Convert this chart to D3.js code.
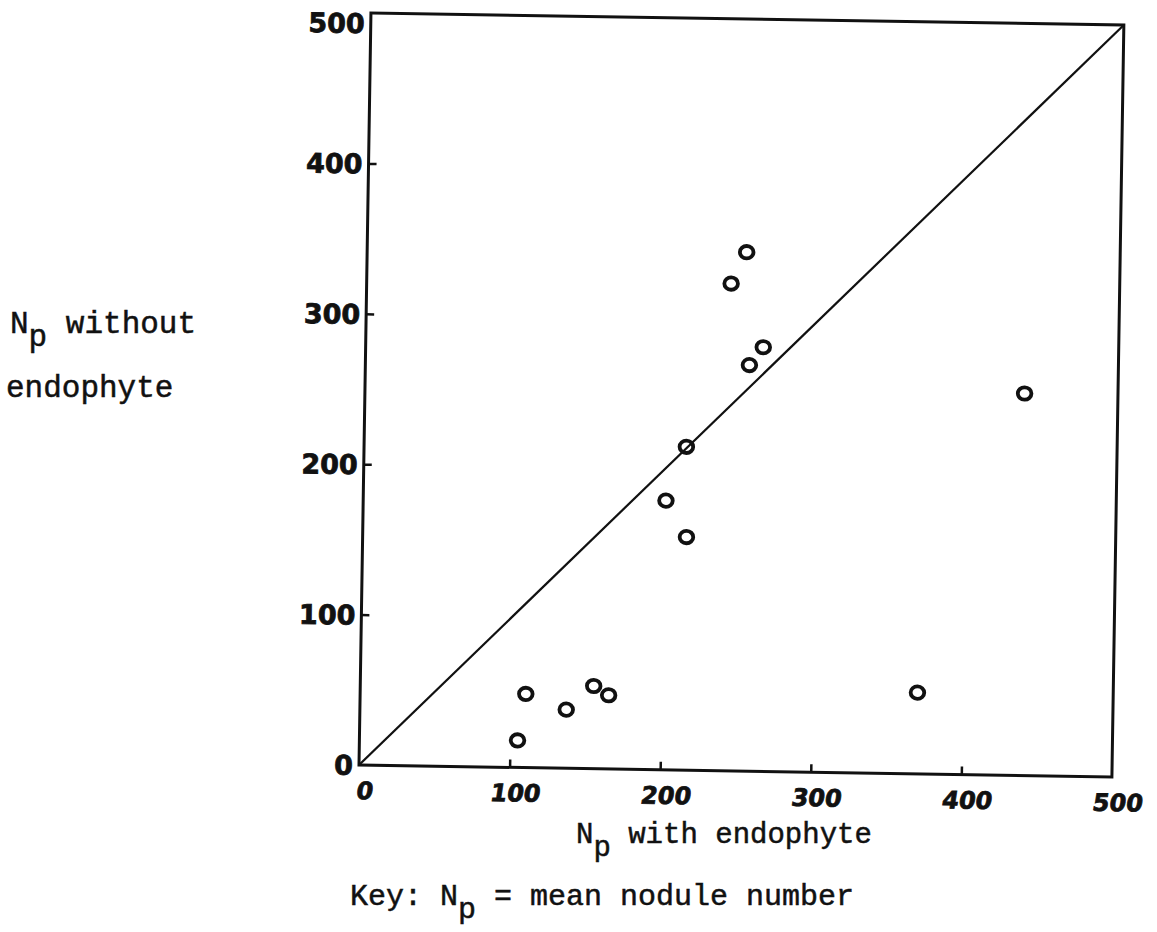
<!DOCTYPE html>
<html>
<head>
<meta charset="utf-8">
<script src="https://cdn.jsdelivr.net/npm/d3@7"></script>
<style>
  html, body { margin: 0; padding: 0; background: #fff; }
  svg { display: block; }
  .typed { font-family: "Liberation Mono", "DejaVu Sans Mono", monospace; fill: #111; stroke: #111; stroke-width: 0.5; }
  .hand { font-family: "DejaVu Sans", sans-serif; font-weight: bold; fill: #111; stroke: #111; stroke-width: 0.8; }
</style>
</head>
<body>
<script>
// Mean nodule number per plant, with and without the endophyte
const withEndophyte    = [105, 110, 137, 155, 165, 201, 214, 215, 242, 252, 255, 264, 370, 438];
const withoutEndophyte = [ 18,  49,  39,  55,  49, 179, 215, 155, 324, 345, 270, 282,  54, 254];
const tickValues = [100, 200, 300, 400];
const tickLabels = [0, 100, 200, 300, 400, 500];

const W = 1157, H = 932;
const origin = { x: 359, y: 765 };
const size = { w: 753, h: 752 };
const tilt = 0.91; // the hand-drawn frame sits slightly clockwise

const svg = d3.select("body").append("svg").attr("width", W).attr("height", H);

const x = d3.scaleLinear().domain([0, 500]).range([0, size.w]);
const y = d3.scaleLinear().domain([0, 500]).range([0, -size.h]);

const g = svg.append("g")
  .attr("transform", `translate(${origin.x},${origin.y}) rotate(${tilt})`);

// frame
g.append("rect")
  .attr("x", x(0)).attr("y", y(500))
  .attr("width", x(500) - x(0)).attr("height", y(0) - y(500))
  .attr("fill", "none").attr("stroke", "#111").attr("stroke-width", 3);

// inward ticks
const xAxis = g.append("g")
  .call(d3.axisBottom(x).tickValues(tickValues).tickSize(-8).tickFormat(""));
const yAxis = g.append("g")
  .call(d3.axisLeft(y).tickValues(tickValues).tickSize(-8).tickFormat(""));
[xAxis, yAxis].forEach(a => {
  a.select(".domain").remove();
  a.selectAll(".tick line").attr("stroke", "#111").attr("stroke-width", 2.5);
});

// 1:1 line
g.append("line")
  .attr("x1", x(0)).attr("y1", y(0))
  .attr("x2", x(500)).attr("y2", y(500))
  .attr("stroke", "#111").attr("stroke-width", 2.2);

// tick labels
g.selectAll("text.xl").data(tickLabels).enter().append("text")
  .attr("class", "hand xl")
  .attr("font-size", 24)
  .attr("x", d => x(d) + 10).attr("y", 34)
  .attr("text-anchor", "middle")
  .attr("transform", "skewX(-8)")
  .text(d => d);

// keep the top label just below the frame corner so it stays on the page
g.selectAll("text.yl").data(tickLabels).enter().append("text")
  .attr("class", "hand yl")
  .attr("font-size", 27)
  .attr("x", -6).attr("y", d => Math.max(y(d), y(500) + 10) + 10)
  .attr("text-anchor", "end")
  .text(d => d);

// points
g.selectAll("ellipse.pt").data(withEndophyte.map((v, i) => [v, withoutEndophyte[i]]))
  .enter().append("ellipse")
  .attr("class", "pt")
  .attr("cx", d => x(d[0])).attr("cy", d => y(d[1]))
  .attr("rx", 6.8).attr("ry", 6.2)
  .attr("fill", "none").attr("stroke", "#111").attr("stroke-width", 3.8);

// typed axis titles and key
function subscriptLabel(sel, px, py, fs, before, after) {
  const t = sel.append("text").attr("class", "typed")
    .attr("font-size", fs).attr("x", px).attr("y", py);
  t.append("tspan").text(before + "N");
  t.append("tspan").attr("dy", 13).text("p");
  t.append("tspan").attr("dy", -13).text(after);
  return t;
}

subscriptLabel(svg, 10, 333, 31, "", " without");
svg.append("text").attr("class", "typed").attr("font-size", 31)
  .attr("x", 6).attr("y", 397).text("endophyte");

subscriptLabel(svg, 576, 843, 29, "", " with endophyte");
subscriptLabel(svg, 350, 905, 30, "Key: ", " = mean nodule number");
</script>
</body>
</html>
